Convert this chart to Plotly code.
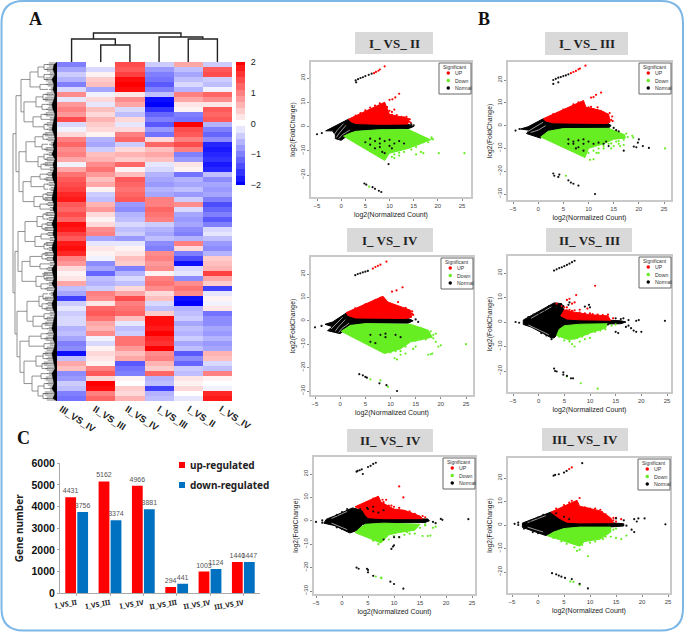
import plotly.graph_objects as go

W, H = 685, 632
SANS = "Liberation Sans"
SERIF = "Liberation Serif"
NOTO = "Noto Sans"

# ---------- heatmap (panel A) ----------
HEAT_LABELS = ["III_VS_IV", "II_VS_III", "II_VS_IV", "I_VS_III", "I_VS_II", "I_VS_IV"]
COL_III_IV = [-1.0,-0.7,-0.4,-0.6,-1.0,-0.3,0.9,-0.2,0.8,1.0,0.8,1.4,-0.3,-0.1,0.3,1.0,1.2,0.9,1.0,0.7,-0.1,0.7,1.1,1.3,1.4,1.5,1.7,1.8,1.3,1.2,1.4,1.2,
              1.9,1.8,1.5,1.3,1.8,1.9,1.7,1.0,0.8,0.3,0.1,0.2,0.7,-0.5,-0.7,-1.5,-0.4,-0.2,-0.4,-0.3,-0.3,-0.6,-0.5,-0.7,-1.0,-0.9,-1.9,-0.5,0.7,0.5,-0.9,-0.8,-0.4,-0.5,-1.0,-1.1]
COL_II_III = [0.0,-0.3,0.1,0.4,0.5,-0.7,-0.1,0.3,-0.2,0.5,0.3,0.6,0.4,0.3,0.1,-0.6,-0.7,-0.4,0.5,0.6,0.9,1.1,0.8,0.5,0.7,0.1,-0.4,-0.5,0.6,0.8,0.3,0.1,
              0.3,0.9,1.0,-0.7,-0.2,0.2,0.1,-0.1,-0.9,-0.7,-1.2,-0.5,-0.6,-0.4,1.0,0.9,0.2,1.2,1.3,1.1,0.7,0.6,0.9,-0.1,-0.3,0.1,0.3,0.2,0.1,1.0,1.3,0.3,2.0,1.9,1.0,1.2]
COL_II_IV = [1.4,1.3,1.5,1.9,2.0,1.9,0.2,0.9,0.7,-0.3,-0.5,0.3,-0.2,0.3,1.0,1.2,-0.4,0.3,0.6,0.4,1.2,0.1,0.5,1.3,1.2,1.1,1.2,1.3,-0.8,-0.9,-0.6,-0.5,
             -0.3,-0.5,-0.4,-0.8,-0.2,0.1,0.2,0.5,0.4,-1.0,-0.6,-0.3,-0.5,0.3,0.7,1.4,1.0,1.1,1.2,0.5,-0.2,-0.5,-0.4,1.1,1.1,0.8,0.5,0.7,-1.3,-1.1,-1.0,0.1,0.0,0.4,0.3,0.6]
COL_I_III = [-0.4,-0.8,-1.0,-1.1,-1.3,-1.0,-0.5,-1.9,-2.0,-1.6,-1.2,-1.0,-1.3,-0.8,-1.1,0.3,1.2,0.5,0.7,0.5,-0.2,-0.3,-0.6,-0.7,-0.8,-0.6,-0.7,1.0,1.0,1.2,1.1,1.0,
             -0.4,-0.6,-0.7,-0.5,-0.9,-1.0,0.9,1.0,0.8,0.9,0.1,1.0,1.1,0.9,0.3,0.5,-0.3,-0.5,0.4,1.9,1.9,1.8,2.0,1.7,1.6,2.0,0.9,1.0,0.6,0.4,1.2,-0.6,-0.5,-1.5,-0.6,-0.5]
COL_I_II = [0.7,-0.5,-0.7,-0.5,-0.3,-0.6,1.0,0.7,0.2,0.1,-1.0,-1.1,2.0,1.4,1.3,1.0,1.4,1.0,-1.0,-0.8,0.2,0.1,-1.1,-0.6,-0.7,-0.5,-0.8,-0.4,0.9,-0.3,-0.7,-0.8,
            -0.7,-0.9,-1.0,-0.6,1.0,0.3,-1.0,-1.4,-1.9,-0.3,-0.2,-0.9,0.9,1.1,0.9,-1.9,-2.0,-0.6,-0.5,-0.4,-0.7,-0.5,-0.6,-0.4,-0.7,-0.5,-1.3,-0.9,-1.2,-0.4,-0.5,0.2,0.1,0.3,0.0,-0.2]
COL_I_IV = [-0.4,1.3,1.4,-0.4,-0.5,-0.1,1.2,0.9,0.2,1.3,1.2,1.3,-0.6,-1.0,-1.2,-0.9,-1.7,-1.8,-1.7,-1.6,-1.8,-1.7,-0.5,-0.9,-0.7,-0.8,-0.7,-1.0,-1.4,-1.2,-1.0,-1.3,
            -1.0,-0.3,-0.2,-0.5,-0.8,-0.9,-0.6,0.4,0.5,0.6,1.5,0.7,0.4,-1.5,-0.2,0.1,-0.1,0.2,-1.1,-0.9,-0.9,-0.7,-0.8,-0.6,-0.8,-0.7,0.6,0.5,-0.3,-0.5,1.0,0.1,0.0,-0.1,1.7,1.8]
HEAT_COLS = [COL_III_IV, COL_II_III, COL_II_IV, COL_I_III, COL_I_II, COL_I_IV]
SCALE_LEVELS = [-2.0,-1.8,-1.6,-1.4,-1.2,-1.0,-0.8,-0.6,-0.4,-0.2,0.0,0.2,0.4,0.6,0.8,1.0,1.2,1.4,1.6,1.8,2.0]

# column dendrogram: (x left, height left, x right, height right, joint height)
COL_LINKS = [(1, 0, 2, 0, 17), (4, 0, 5, 0, 23), (0, 0, 1.5, 17, 23), (3, 0, 4.5, 23, 25), (0.75, 23, 3.75, 25, 29)]

# row dendrogram: nested [depth, child, child]; leaves are row numbers
ROW_TREE = [13,
 [16,
  [21,
   [30, [38, [44, 0, 1], [44, 2, 3]], [40, 4, 5]],
   [24, [36, [43, 6, 7], [42, 8, 9]], [33, [41, 10, 11], [44, 12, 13]]]],
  [19,
   [26, [35, [43, 14, 15], [42, 16, 17]], [38, [44, 18, 19], [41, 20, 21]]],
   [23, [31, [40, 22, 23], [44, 24, 25]], [34, [43, 26, 27], [40, 28, 29]]]]],
 [15,
  [18,
   [25, [37, [43, 30, 31], [42, 32, 33]], [35, [41, 34, 35], [44, 36, 37]]],
   [22, [30, [42, 38, 39], [40, 40, 41]], [36, [44, 42, 43], [41, 44, 45]]]],
  [17,
   [27, [39, [43, 46, 47], [42, 48, 49]], [33, [44, 50, 51], [42, 52, 53]]],
   [20, [29, [41, 54, 55], [44, 56, 57]],
    [24, [36, [43, 58, 59], [42, 60, 61]], [32, [41, 62, 63], [38, [44, 64, 65], [43, 66, 67]]]]]]]]
ROW_SPIKE = [47,45,48,44,46,49,45,43,47,46,44,48,45,47,43,46,49,44,47,45,43,48,46,44,47,49,45,43,46,48,44,47,
             45,43,46,48,44,47,43,45,48,46,42,44,47,45,49,43,46,44,48,45,43,47,46,44,48,45,43,46,42,45,47,44,46,48,43,45]
ROW_BLACK = [54,53,55,52,54,53,55,54,52,53,55,54,53,52,54,55,53,54,52,55,53,54,52,53,55,54,53,52,54,53,55,54,
             52,54,53,55,53,52,54,53,55,52,53,54,52,55,53,54,52,53,55,54,53,52,54,53,55,54,52,53,54,55,52,53,54,52,55,53]

# ---------- bars (panel C) ----------
BAR_CATS = ["I_VS_II", "I_VS_III", "I_VS_IV", "II_VS_III", "II_VS_IV", "III_VS_IV"]
UP_REG = [4431, 5162, 4966, 294, 1003, 1440]
DOWN_REG = [3756, 3374, 3881, 441, 1124, 1447]

# ---------- MA plots: density outlines, gaps in the fans and separately read points ----------
P1_BLACK = [(-3.2,-1.8),(-0.5,1),(1.5,3),(3,2),(6,1),(14,0.8),(15,0),(14,-0.8),(8,-1.2),(3,-2),(1.5,-3.5),(0,-5.7),(-1.2,-5),(-1.2,-3.5),(-1.8,-1.8)]
P1_RED = [(1.5,3),(9,10),(10,5),(12,4),(14,3.3),(13.8,1),(8,0.9),(3,1.2),(2,2)]
P1_GREEN = [(0.5,-4),(9,-14),(10,-11),(14,-9),(18.5,-5.5),(16,-3),(14,-1.3),(8,-1.3),(3,-2),(1.5,-3)]
P1_GAPS = [[(-1.5,-3.5),(-0.8,-1.5),(0.5,1.2)],[(-1,-4.5),(-0.3,-2.5),(1,0.5)],[(-0.5,-5),(0.3,-3.3),(1.8,-1.5)]]
P1_BLACK_PTS = [(-5,-3.2),(-4,-2.7),(3,19),(3.5,19.5),(4,20),(4.5,20.3),(5,20.8),(5.7,21.3),(6.3,21.8),(3.1,18.2),(4.8,-23.5),(5.2,-24),(6.5,-25),(7,-25.7),(7.8,-26.5),(8.3,-27),(9.8,-15.5),(14.5,0.9),(15,0.5),(8,-7),(6,-7.5),(7,-9),(9,-11),(10,-8),(8.5,-10.5),(6,-5),(7,-6),(8,-5),(9,-6),(10,-5.5),(11,-7),(12,-6),(13,-7),(5,-6.5),(8,-8.5),(10.5,-9)]
P1_RED_PTS = [(6.8,22),(7.2,22.5),(7.7,23),(8,23.5),(9,24.8),(10,11),(10.6,11.2),(11.2,12),(12,13.5),(10.5,6),(11,7),(9.5,8),(14.2,3),(13.5,4),(3,4.5),(4,5.5),(5,6.7),(6,7.8),(7,8.6),(8,9.5),(8.5,7.5),(9.5,6.5),(10.5,4.8),(11.5,4.7),(12.5,4),(13,3.8),(14.1,2),(14.4,1.5),(10,6.5),(9.2,7)]
P1_GREEN_PTS = [(5.8,-24.8),(25.5,-11),(20.2,-11),(17,-11),(15.5,-11.5),(16.5,-10.5),(12,-12),(11,-13),(18.7,-5),(19,-5.3),(10.5,-12.5),(15,-7.5),(16,-7),(17,-6.5),(18,-6.5),(17.5,-5),(16.5,-4),(15,-3.5),(13,-10.5),(12,-10.8),(11,-11.5),(14.5,-9.5),(15.5,-8.5),(18.7,-4.5),(12.5,-8.8)]

P2_BLACK = [(-3.5,-1.5),(-2,-0.5),(1,3),(3,1.5),(7,1),(14,0.8),(14.5,0),(14,-1),(6,-1),(2,-2.3),(0.5,-5.5),(-2.3,-3.5),(-1.8,-2)]
P2_RED = [(1,3),(9,11),(9.5,8),(12,6.9),(14,5),(14.3,1.5),(13.5,0.9),(3,1.2),(1.5,2)]
P2_GREEN = [(0.5,-5),(9.3,-14),(10,-10),(13,-8),(15,-6),(17.3,-5.5),(17.2,-4),(14,-1.2),(5,-1.3),(2,-2.5)]
P2_GAPS = [[(-2,-2.5),(-0.5,-0.5),(1,1.5)],[(-1.5,-3),(0,-2),(1.5,0)]]
P2_BLACK_PTS = [(-4.5,-2.2),(-3.7,-1.5),(3,20),(3.5,20.5),(4,21),(4.5,21.3),(5,21.7),(5.5,22),(6,22.5),(3,18.3),(4,19),(3,-21),(3.2,-22),(4,-22.5),(4.2,-21.5),(6,-24),(6.5,-25),(7,-25.5),(8,-26.3),(11.3,-30),(20,-6),(19.8,-7.5),(19,-9.2),(19.5,-9.5),(20.8,-9),(22,-9.8),(17,-11),(14,-9),(13.5,-7),(16,-2.5),(15.5,-2),(15,-1),(6,-8),(7,-7),(8,-9.5),(9,-8),(6,-6),(7,-8),(8,-6.5),(9,-6),(10,-7),(11,-8),(12,-7.5),(13,-8),(9,-11),(7.5,-10)]
P2_RED_PTS = [(6.5,23),(7,23.5),(7.5,24),(8,24.7),(8.3,25),(9.4,26.3),(10.5,12.3),(11,12.5),(11.5,13.5),(12.5,14.5),(11.8,8),(12,6.5),(14.5,2.5),(3,5),(5,7),(7,9.3),(8,10.2),(9,8.5),(10,8),(11,7.2),(12.5,6.5),(13,5.8),(14.2,5.5),(14.7,4),(14.8,2),(10.5,8.2)]
P2_GREEN_PTS = [(5.5,-22),(18.7,-4.5),(18.9,-5.3),(25.2,-10),(15,-9),(14.5,-10),(13,-10),(11,-14.8),(10.3,-15),(12,-12),(11.6,-12),(16.3,-9),(17,-8.5),(16,-8),(15.5,-7),(16,-6.8),(17,-6.2),(17.8,-5),(17.5,-3.5),(16,-3),(12,-10),(11,-11),(10,-12),(14,-8),(13,-9),(14.5,-7.8)]

P3_BLACK = [(-3,-1.5),(-1.5,-0.5),(1.2,3.3),(3,2),(7,1.2),(13.5,1),(14.5,0),(13.5,-1),(5,-1),(2,-1.8),(0,-5.5),(-2.5,-4.2),(-1.5,-2.5)]
P3_RED = [(1.2,3.5),(8.5,10.5),(9.5,8),(14,4.5),(14.2,1.5),(13,1),(3,1.2),(1.5,2.3)]
P3_GREEN = [(0.2,-4.5),(8.8,-14),(12,-12),(14,-9),(18.3,-7),(17.5,-4),(14,-1.5),(5,-1.2),(2,-2)]
P3_GAPS = [[(-1.8,-3.5),(-0.8,-1.5),(0.5,1.5)],[(-1,-4.5),(-0.3,-2.5),(1,0.5)],[(-0.3,-5),(0.3,-3.3),(1.8,-1)]]
P3_BLACK_PTS = [(-5,-2.8),(-3.7,-2.2),(3,19.5),(3.5,20),(4,20.3),(4.5,20.7),(5,21),(5.5,21.3),(3.8,-22.8),(4.5,-23.3),(5,-24),(5.3,-24.3),(7.8,-26.7),(9.2,-27.5),(11.3,-30),(15,0.6),(15.5,-0.5),(6,-9),(9,-7),(6,-6),(8,-6),(9,-5.5),(11,-6),(7,-9.5),(12,-7)]
P3_RED_PTS = [(6.5,22.3),(7,23),(7.5,23.5),(8,24),(9.2,25.3),(10.3,12.5),(11.2,13),(12.4,14.3),(11.5,8),(14.3,3),(3,5.3),(5,7),(7,9),(8,9.8),(9,8.2),(10,7),(11,6),(12,5.5),(13,5.5),(14.3,4),(14.5,2.5)]
P3_GREEN_PTS = [(6,-25),(8,-25.5),(9.5,-28.2),(25,-10),(20,-10.5),(19.5,-11),(19,-9),(18.5,-7.5),(17.5,-14.5),(18,-14.3),(18.3,-14),(11.3,-16.5),(10.8,-16),(12,-14.5),(13,-14),(14.5,-12),(15,-11),(15,-8.5),(16,-8),(17,-8),(18.5,-6),(19,-5.5),(18,-4.5),(16,-3),(13,-11),(12,-13),(11,-13),(10,-13.5)]

P4_BLACK = [(-3,0.8),(-1.5,2.5),(3,7.8),(4.5,7.5),(5,4),(5.5,3),(8,1.2),(16,0.5),(17,0),(16,-0.7),(8,-1),(5,-2),(3,-6.5),(2.5,-6.5),(-1.5,-2),(-3,-1)]
P4_RED = [(4.3,2.5),(5,5),(7,4),(10,3),(13.5,2.5),(14,0.7),(8,0.9),(5.5,1.2)]
P4_GREEN = [(3.5,-5.5),(5.5,-7),(7,-7),(10,-4.5),(13,-2.5),(13.5,-0.7),(8,-0.9),(5,-1.5),(4,-3)]
P4_GAPS = [[(-1.5,1.5),(0.5,3.8),(2.5,6.2)],[(-2,-1.2),(0,-3.2),(2,-5.2)]]
P4_BLACK_PTS = [(-4.5,0),(-3.8,-0.3),(3,21),(3.5,21.5),(4,22),(4.5,22.3),(5,22.8),(5.5,23.3),(6,23.8),(6.5,24.4),(7,25),(3,-19),(3.2,-20),(3.5,-20.2),(4.8,-20.5),(4.8,-21.5),(5.5,-22),(6.3,-23),(6.7,-23),(9.8,7),(9,6.3),(10,6),(6,8),(5.8,7),(13.5,-1),(15,-4),(15.5,-4.5),(17,-2),(17.5,-1.5),(18,-2.5),(18.5,-3.5),(19,-4),(20,-4),(19,0.5),(19.5,0.8),(17.5,0.8),(24.6,0.5),(15,1.5),(16,1.2),(16.5,1.5),(4.8,6.5),(3.5,6),(2,6.5),(1,4.8),(0,3.5),(-1,3),(-2,2),(0.5,-4.5),(1.5,-5.5),(2.5,-7)]
P4_RED_PTS = [(11,14.8),(7.3,11),(6,9.5),(5.5,9),(7,8),(6.5,7.5),(9.5,5.5),(10,3.5),(4.5,6.5),(3.5,7.5),(5.5,6),(5,6),(5.5,4.8),(6,5),(6.5,4.6),(7,4.8),(8,3.8),(9,3.5),(10.5,3.2),(11.5,3),(12.5,2.8),(14.5,1.5),(13.5,3),(8,5)]
P4_GREEN_PTS = [(5.5,-22.2),(8.2,-25),(11.5,-27.2),(6,-8),(6.5,-9),(7,-10),(8,-8),(9,-7),(10,-6.5),(4,-6),(5,-7.5),(6,-7.3),(7.5,-6.5),(8.5,-6),(9.5,-5),(11,-4),(12,-3.5),(13,-3),(14.2,-1.5),(15,-1)]

P5_BLACK = [(-3,0.7),(-1.5,2),(2,5.5),(4,4.5),(5,3),(7,1.5),(10,0.8),(16.5,0.8),(16.8,0),(16,-0.7),(8,-1),(4,-1.5),(3,-4),(1.5,-5.2),(-1.5,-2),(-3.5,-1)]
P5_RED = [(2.5,6),(7,10.5),(7.5,8),(10,5),(12,4.5),(15,2),(15.5,0.9),(8,0.9),(5,1.3),(4.5,2.5),(4,4.5)]
P5_GREEN = [(2.5,-5),(7.5,-9.5),(9,-6),(11,-5),(14,-4),(15,-1.5),(8,-1),(4.5,-1.5),(3.5,-3)]
P5_GAPS = [[(-2,1),(-0.5,2.5),(1,4)],[(-2,-1),(-0.5,-2.4),(1,-3.8)]]
P5_BLACK_PTS = [(-5,-0.5),(-3.8,0.2),(-3.8,-0.8),(2.8,21),(3,21.3),(3.4,21.6),(3.8,22),(4,20),(5,23),(5.5,23.5),(6,24.3),(6.5,24.8),(2.8,-20),(3.2,-20.5),(4.8,-20.5),(5,-21),(5,-22),(6,-23.5),(9.3,-26),(10,-27),(11.8,-29),(24.3,0.7),(19,0.8),(19.3,0.4),(17.5,-0.5),(18,-1),(9.5,-12),(10,-10.5),(9.8,-11),(7,3.5),(5,5),(6,6),(10,-7),(11,-7),(8,-8),(1,5),(0,3.7),(-1,2.5),(0,-3.5),(-1,-2.8),(3.5,5),(4.8,5.5),(6,4),(8,4.5)]
P5_RED_PTS = [(11,14.7),(11.8,10),(8,7),(9,6),(9.5,6.5),(16,1.5),(6,9.5),(5,8),(8,8),(9,6.5),(10,6),(11,5.5),(13,4),(14,3),(15.5,2),(8.5,9),(7.8,9)]
P5_GREEN_PTS = [(6.5,-23.8),(7.5,-24.3),(7.6,-24.5),(15.5,-6.5),(16.5,-6.5),(17,-6.3),(17.5,-3),(18,-2.5),(14,-5.5),(6,-8.5),(7,-10),(8,-8),(9,-8),(10,-6.5),(12,-6),(13,-5.5),(15,-3),(16,-2),(16,-1.5),(11,-7),(12.5,-4.8)]

P6_BLACK = [(-3,0.8),(-1,2.5),(2.5,5.5),(4,4),(5.5,2),(8,1),(14,1),(16.5,0.5),(16.5,-0.4),(14,-0.8),(8,-1),(5,-1.5),(3,-3),(1.5,-4.5),(-1,-2.7),(-3,-1)]
P6_RED = [(2.5,5.5),(7.5,10.5),(8,8),(11,6.5),(12,6),(14,3),(14.5,1),(8,0.9),(5.5,1.2),(4,3)]
P6_GREEN = [(1.8,-4.6),(6.5,-8),(8,-9),(9,-7),(12,-6),(14,-3),(14,-0.9),(8,-0.9),(5,-1.5),(3,-3)]
P6_GAPS = [[(-2,1),(-0.3,2.5),(1.5,4)],[(-2,-0.9),(-0.5,-2),(1,-3)]]
P6_BLACK_PTS = [(-4.5,0.5),(-3.8,1),(-3.8,0),(-2.7,-1.5),(3,21),(3.3,21.3),(4,21.6),(5,22.3),(5.5,23),(8.5,26.3),(2.7,-20.5),(3.5,-21),(4,-21.5),(4.5,-22),(5.2,-22.5),(6.5,-23),(8,-25),(9.6,-27),(24.5,0.3),(20.5,2.8),(19.3,2.8),(18.5,2.5),(16.5,2),(15,2.8),(17,-0.3),(18,-2),(18.5,-3),(19,1.5),(1,4.3),(0,3.2),(-1.5,1.8),(0,-3.5),(-1,-3),(5,3.5),(6,2.5),(3.5,5)]
P6_RED_PTS = [(6,23.8),(6.5,24.5),(8,11.5),(6.5,10.3),(7,9),(9.5,7),(12,6.5),(15,3),(16,2.5),(14.5,3),(3.5,7),(5,8.5),(6,9.5),(8.5,6.5),(9,7.5),(10,7),(11,7),(12.3,5.5),(13,4.5),(14.5,2),(15,1.5),(10.5,5.5)]
P6_GREEN_PTS = [(6.2,-24),(6.8,-24.2),(8,-25.5),(9.6,-13.3),(7.5,-11),(8,-10.5),(15,-5.5),(16,-6),(17,-4.5),(14,-5),(3,-5.5),(4.5,-7),(5.5,-8),(7,-9.5),(8.5,-8.5),(10,-7.5),(11,-7),(13,-5),(14.5,-2),(15,-1.5),(12.5,-6)]

Y_TICKS_SHORT = [-20, -10, 0, 10, 20]
Y_TICKS_LONG = [-30, -20, -10, 0, 10, 20]
X_TICKS = [-5, 0, 5, 10, 15, 20, 25]

# layout of the six panels, in page pixels
PANELS = [
 dict(name="I_ VS_ II", box=(311,471,62,197), xm=(317,462), ym=(20,78,-20,175), yt=Y_TICKS_SHORT, title=(355,433,32,54), data=(P1_BLACK,P1_RED,P1_GREEN,P1_BLACK_PTS,P1_RED_PTS,P1_GREEN_PTS), gaps=P1_GAPS),
 dict(name="I_ VS_ III", box=(508,671,62,200), xm=(513,664), ym=(20,80,-30,194), yt=Y_TICKS_LONG, title=(545,628,32,55), data=(P2_BLACK,P2_RED,P2_GREEN,P2_BLACK_PTS,P2_RED_PTS,P2_GREEN_PTS), gaps=P2_GAPS),
 dict(name="I_ VS_ IV", box=(311,473,257,395), xm=(315,466), ym=(20,274,-30,391), yt=Y_TICKS_LONG, title=(347,433,228,252), data=(P3_BLACK,P3_RED,P3_GREEN,P3_BLACK_PTS,P3_RED_PTS,P3_GREEN_PTS), gaps=P3_GAPS),
 dict(name="II_ VS_ III", box=(508,671,256,392), xm=(513,667), ym=(20,273,-20,371), yt=Y_TICKS_SHORT, title=(546,632,228,252), data=(P4_BLACK,P4_RED,P4_GREEN,P4_BLACK_PTS,P4_RED_PTS,P4_GREEN_PTS), gaps=P4_GAPS),
 dict(name="II_ VS_ IV", box=(314,475,457,594), xm=(316,472), ym=(20,474,-30,591), yt=Y_TICKS_LONG, title=(347,433,429,452), data=(P5_BLACK,P5_RED,P5_GREEN,P5_BLACK_PTS,P5_RED_PTS,P5_GREEN_PTS), gaps=P5_GAPS),
 dict(name="III_ VS_ IV", box=(508,670,458,593), xm=(512,668), ym=(20,478,-20,572), yt=Y_TICKS_SHORT, title=(542,628,428,451), data=(P6_BLACK,P6_RED,P6_GREEN,P6_BLACK_PTS,P6_RED_PTS,P6_GREEN_PTS), gaps=P6_GAPS),
]

RED, GREEN, BLACK = "#ff0000", "#66ee22", "#000000"
LEGEND_ITEMS = [("UP", RED), ("Down", GREEN), ("Normal", BLACK)]
HEAT_SCALE = [[0, "#0000ff"], [0.5, "#ffffff"], [1, "#ff0000"]]

def X(p): return p / W
def Y(p): return 1 - p / H

fig = go.Figure()
annotations, shapes = [], []
layout = {}

def note(text, x, y, size, color="#222", family=SANS, anchor="center", bold=False, angle=0):
    annotations.append(dict(text=f"<b>{text}</b>" if bold else text, x=X(x), y=Y(y), xref="paper", yref="paper",
                            showarrow=False, xanchor=anchor, yanchor="middle", textangle=angle,
                            font=dict(family=family, size=size, color=color)))

def rect(x0, x1, y0, y1, fill=None, line=None, lw=1):
    shapes.append(dict(type="rect", xref="paper", yref="paper", x0=X(x0), x1=X(x1), y0=Y(y1), y1=Y(y0),
                       fillcolor=fill or "rgba(0,0,0,0)", line=dict(color=line or "rgba(0,0,0,0)", width=lw if line else 0)))

# ---- heatmap
HX0, HX1, HY0, HY1 = 57, 232, 62, 401
rows = list(zip(*HEAT_COLS))
fig.add_trace(go.Heatmap(z=rows, x=list(range(6)), y=list(range(68)), zmin=-2, zmax=2, xaxis="x", yaxis="y",
    colorscale=HEAT_SCALE, hoverinfo="skip", showscale=False))
layout["xaxis"] = dict(domain=[X(HX0), X(HX1)], range=[-0.5, 5.5], anchor="y", tickmode="array",
    tickvals=[i + d for i, d in enumerate([-0.35, -0.2, -0.1, 0, 0.03, 0.13])],
    ticktext=[f"<b>{t}</b>" for t in HEAT_LABELS], showgrid=False, zeroline=False,
    tickangle=33, ticks="", tickfont=dict(family=SANS, size=9.5, color="#222"))
layout["yaxis"] = dict(domain=[Y(HY1), Y(HY0)], range=[67.5, -0.5], anchor="x", showticklabels=False, showgrid=False, zeroline=False, ticks="")

# ---- colour scale drawn as a heatmap strip on its own axis
fig.add_trace(go.Heatmap(z=[[v] for v in SCALE_LEVELS], x=[0], y=SCALE_LEVELS, zmin=-2, zmax=2, xaxis="x11", yaxis="y11",
    colorscale=HEAT_SCALE, hoverinfo="skip", showscale=False))
layout["xaxis11"] = dict(domain=[X(236), X(245)], anchor="y11", visible=False)
layout["yaxis11"] = dict(domain=[Y(185), Y(62)], range=[-2, 2], anchor="x11", side="right", showgrid=False, zeroline=False,
    tickvals=[-2, -1, 0, 1, 2], ticks="outside", ticklen=3, tickcolor="rgba(0,0,0,0)", tickfont=dict(family=SANS, size=9, color="#222"), showline=False)

# ---- column dendrogram
dx, dy = [], []
for x0, h0, x1, h1, top in COL_LINKS:
    dx += [x0, x0, x1, x1, None]
    dy += [h0, top, top, h1, None]
fig.add_trace(go.Scatter(x=dx, y=dy, mode="lines", xaxis="x2", yaxis="y2", line=dict(color="#222", width=1.4), hoverinfo="skip", showlegend=False))
layout["xaxis2"] = dict(domain=[X(HX0), X(HX1)], range=[-0.5, 5.5], anchor="y2", visible=False)
layout["yaxis2"] = dict(domain=[Y(62), Y(31)], range=[0, 31], anchor="x2", visible=False)

# ---- row dendrogram
rx, ry = [], []
def walk(node):
    if isinstance(node, int):
        return node, 48
    d, a, b = node
    ya, xa = walk(a)
    yb, xb = walk(b)
    rx.extend([xa, d, d, xb, None])
    ry.extend([ya, ya, yb, yb, None])
    return (ya + yb) / 2, d
walk(ROW_TREE)
fig.add_trace(go.Scatter(x=rx, y=ry, mode="lines", xaxis="x3", yaxis="y3", line=dict(color="#777", width=0.8), hoverinfo="skip", showlegend=False))
sx, sy = [], []
for r, s in enumerate(ROW_SPIKE):
    for off in (-0.3, 0.0, 0.3):
        sx += [s + 2 * abs(off) * 3, 57, None]
        sy += [r + off, r + off, None]
fig.add_trace(go.Scatter(x=sx, y=sy, mode="lines", xaxis="x3", yaxis="y3", line=dict(color="#555", width=0.7), hoverinfo="skip", showlegend=False))
bx = list(ROW_BLACK) + [57, 57]
by = list(range(68)) + [67.5, -0.5]
fig.add_trace(go.Scatter(x=bx, y=by, mode="lines", fill="toself", fillcolor="#000", xaxis="x3", yaxis="y3", line=dict(color="#000", width=0.5), hoverinfo="skip", showlegend=False))
layout["xaxis3"] = dict(domain=[X(12), X(HX0)], range=[12, HX0], anchor="y3", visible=False)
layout["yaxis3"] = dict(domain=[Y(HY1), Y(HY0)], range=[67.5, -0.5], anchor="x3", visible=False)

# ---- bars
BLUE_BAR = "#0070c0"
for vals, col in ((UP_REG, "#ff0000"), (DOWN_REG, BLUE_BAR)):
    fig.add_trace(go.Bar(x=BAR_CATS, y=vals, xaxis="x4", yaxis="y4", marker=dict(color=col, line=dict(width=0)),
                         text=[str(v) for v in vals], textposition="outside", textangle=0, cliponaxis=False,
                         constraintext="none", textfont=dict(family=SANS, size=7, color="#555"), hoverinfo="skip", showlegend=False))
layout["xaxis4"] = dict(domain=[X(60), X(260)], anchor="y4", type="category", showline=True, linecolor="#aaa", linewidth=1,
    ticks="outside", ticklen=2, tickcolor="#aaa", tickangle=-10, showgrid=False,
    tickfont=dict(family=NOTO, size=7, color="#222", weight="bold"))
layout["yaxis4"] = dict(domain=[Y(593.3), Y(463.3)], range=[0, 6000], anchor="x4", showline=True, linecolor="#aaa", linewidth=1,
    tickvals=[0,1000,2000,3000,4000,5000,6000], ticks="outside", ticklen=2, tickcolor="#aaa", showgrid=False, zeroline=False,
    tickfont=dict(family=SANS, size=10.5, color="#111", weight="bold"),
    title=dict(text="Gene number", font=dict(family=NOTO, size=10, color="#222", weight="bold"), standoff=6))
layout["barmode"] = "group"
layout["bargap"] = 0.28
layout["bargroupgap"] = 0.1
rect(179, 185, 462, 468, fill="#ff0000")
rect(179, 185, 482, 488, fill=BLUE_BAR)
note("up-regulated", 188, 465, 10, color="#222", family=NOTO, anchor="left", bold=True)
note("down-regulated", 188, 485, 10, color="#222", family=NOTO, anchor="left", bold=True)

# ---- MA plots
for i, p in enumerate(PANELS):
    n = i + 5
    xa, ya = f"x{n}", f"y{n}"
    l, r, t, b = p["box"]
    ux = (p["xm"][1] - p["xm"][0]) / 30
    v0, p0, v1, p1 = p["ym"]
    uy = (p1 - p0) / (v0 - v1)
    xr = [-5 + (l - p["xm"][0]) / ux, -5 + (r - p["xm"][0]) / ux]
    yr = [v0 - (b - p0) / uy, v0 + (p0 - t) / uy]
    black, red, green, bp, rp, gp = p["data"]
    def cloud(poly, col):
        xs = [q[0] for q in poly] + [poly[0][0]]
        ys = [q[1] for q in poly] + [poly[0][1]]
        fig.add_trace(go.Scatter(x=xs, y=ys, mode="lines", fill="toself", fillcolor=col, line=dict(color=col, width=1),
                                 xaxis=xa, yaxis=ya, hoverinfo="skip", showlegend=False))
    cloud(black, BLACK)
    for gap in p["gaps"]:
        fig.add_trace(go.Scatter(x=[q[0] for q in gap], y=[q[1] for q in gap], mode="lines", line=dict(color="#ffffff", width=0.6),
                                 xaxis=xa, yaxis=ya, hoverinfo="skip", showlegend=False))
    cloud(red, RED)
    cloud(green, GREEN)
    for pts, col in ((rp, RED), (gp, GREEN), (bp, "#111")):
        fig.add_trace(go.Scatter(x=[q[0] for q in pts], y=[q[1] for q in pts], mode="markers",
                                 marker=dict(color=col, size=2.2, line=dict(width=0)),
                                 xaxis=xa, yaxis=ya, hoverinfo="skip", showlegend=False))
    layout[f"xaxis{n}"] = dict(domain=[X(l), X(r)], range=xr, anchor=ya, tickvals=X_TICKS, showgrid=False, zeroline=False,
        showline=True, mirror=True, linecolor="#c9c9c9", linewidth=1.5, ticks="outside", ticklen=2, tickcolor="#888", tickwidth=0.7,
        tickfont=dict(family=SANS, size=6, color="#444"),
        title=dict(text="log2(Normalized Count)", font=dict(family=SANS, size=7, color="#222"), standoff=4))
    layout[f"yaxis{n}"] = dict(domain=[Y(b), Y(t)], range=yr, anchor=xa, tickvals=p["yt"], showgrid=False, zeroline=False,
        showline=True, mirror=True, linecolor="#c9c9c9", linewidth=1.5, ticks="outside", ticklen=2, tickcolor="#888", tickwidth=0.7,
        tickangle=-90, tickfont=dict(family=SANS, size=6, color="#444"),
        title=dict(text="log2(FoldChange)", font=dict(family=SANS, size=6.8, color="#222"), standoff=3))
    # title tag
    tl, tr, tt, tb = p["title"]
    rect(tl, tr, tt, tb, fill="#d9d9d9")
    note(p["name"], (tl + tr) / 2, (tt + tb) / 2, 13, color="#222", family=SERIF, bold=True)
    # key box
    kl, kt = r - 32, t + 1
    rect(kl, r, kt, kt + 31, fill="#ffffff", line="#666", lw=1)
    note("Significant", kl + 16, kt + 3.5, 5, color="#333")
    for j, (lab, col) in enumerate(LEGEND_ITEMS):
        cy = kt + 10 + j * 7.5
        shapes.append(dict(type="circle", xref="paper", yref="paper", x0=X(kl + 7.5), x1=X(kl + 11), y0=Y(cy + 1.75), y1=Y(cy - 1.75),
                           fillcolor=col, line=dict(width=0)))
        note(lab, kl + 13.5, cy, 5.2, color="#333", anchor="left")

# ---- panel letters
note("A", 35, 19, 18, color="#111", family=SERIF, bold=True)
note("B", 484, 19, 18, color="#111", family=SERIF, bold=True)
note("C", 23, 438, 18, color="#111", family=SERIF, bold=True)

# ---- rounded frame of the figure
fx0, fx1, fy0, fy1, rad = X(1.5), X(683), Y(630.5), Y(1), 22
rx_, ry_ = rad / W, rad / H
shapes.append(dict(type="path", xref="paper", yref="paper", line=dict(color="#7db7e6", width=2), layer="above",
    path=(f"M {fx0+rx_} {fy1} L {fx1-rx_} {fy1} Q {fx1} {fy1} {fx1} {fy1-ry_} L {fx1} {fy0+ry_} Q {fx1} {fy0} {fx1-rx_} {fy0} "
          f"L {fx0+rx_} {fy0} Q {fx0} {fy0} {fx0} {fy0+ry_} L {fx0} {fy1-ry_} Q {fx0} {fy1} {fx0+rx_} {fy1} Z")))

fig.update_layout(template="none", width=W, height=H, autosize=False, margin=dict(l=0, r=0, t=0, b=0, pad=0), paper_bgcolor="#ffffff",
                  plot_bgcolor="#ffffff", showlegend=False, annotations=annotations, shapes=shapes, **layout)
fig.write_html("out.html", config={"displayModeBar": False}, post_script="document.body.style.margin='0';document.documentElement.style.overflow='hidden';")
